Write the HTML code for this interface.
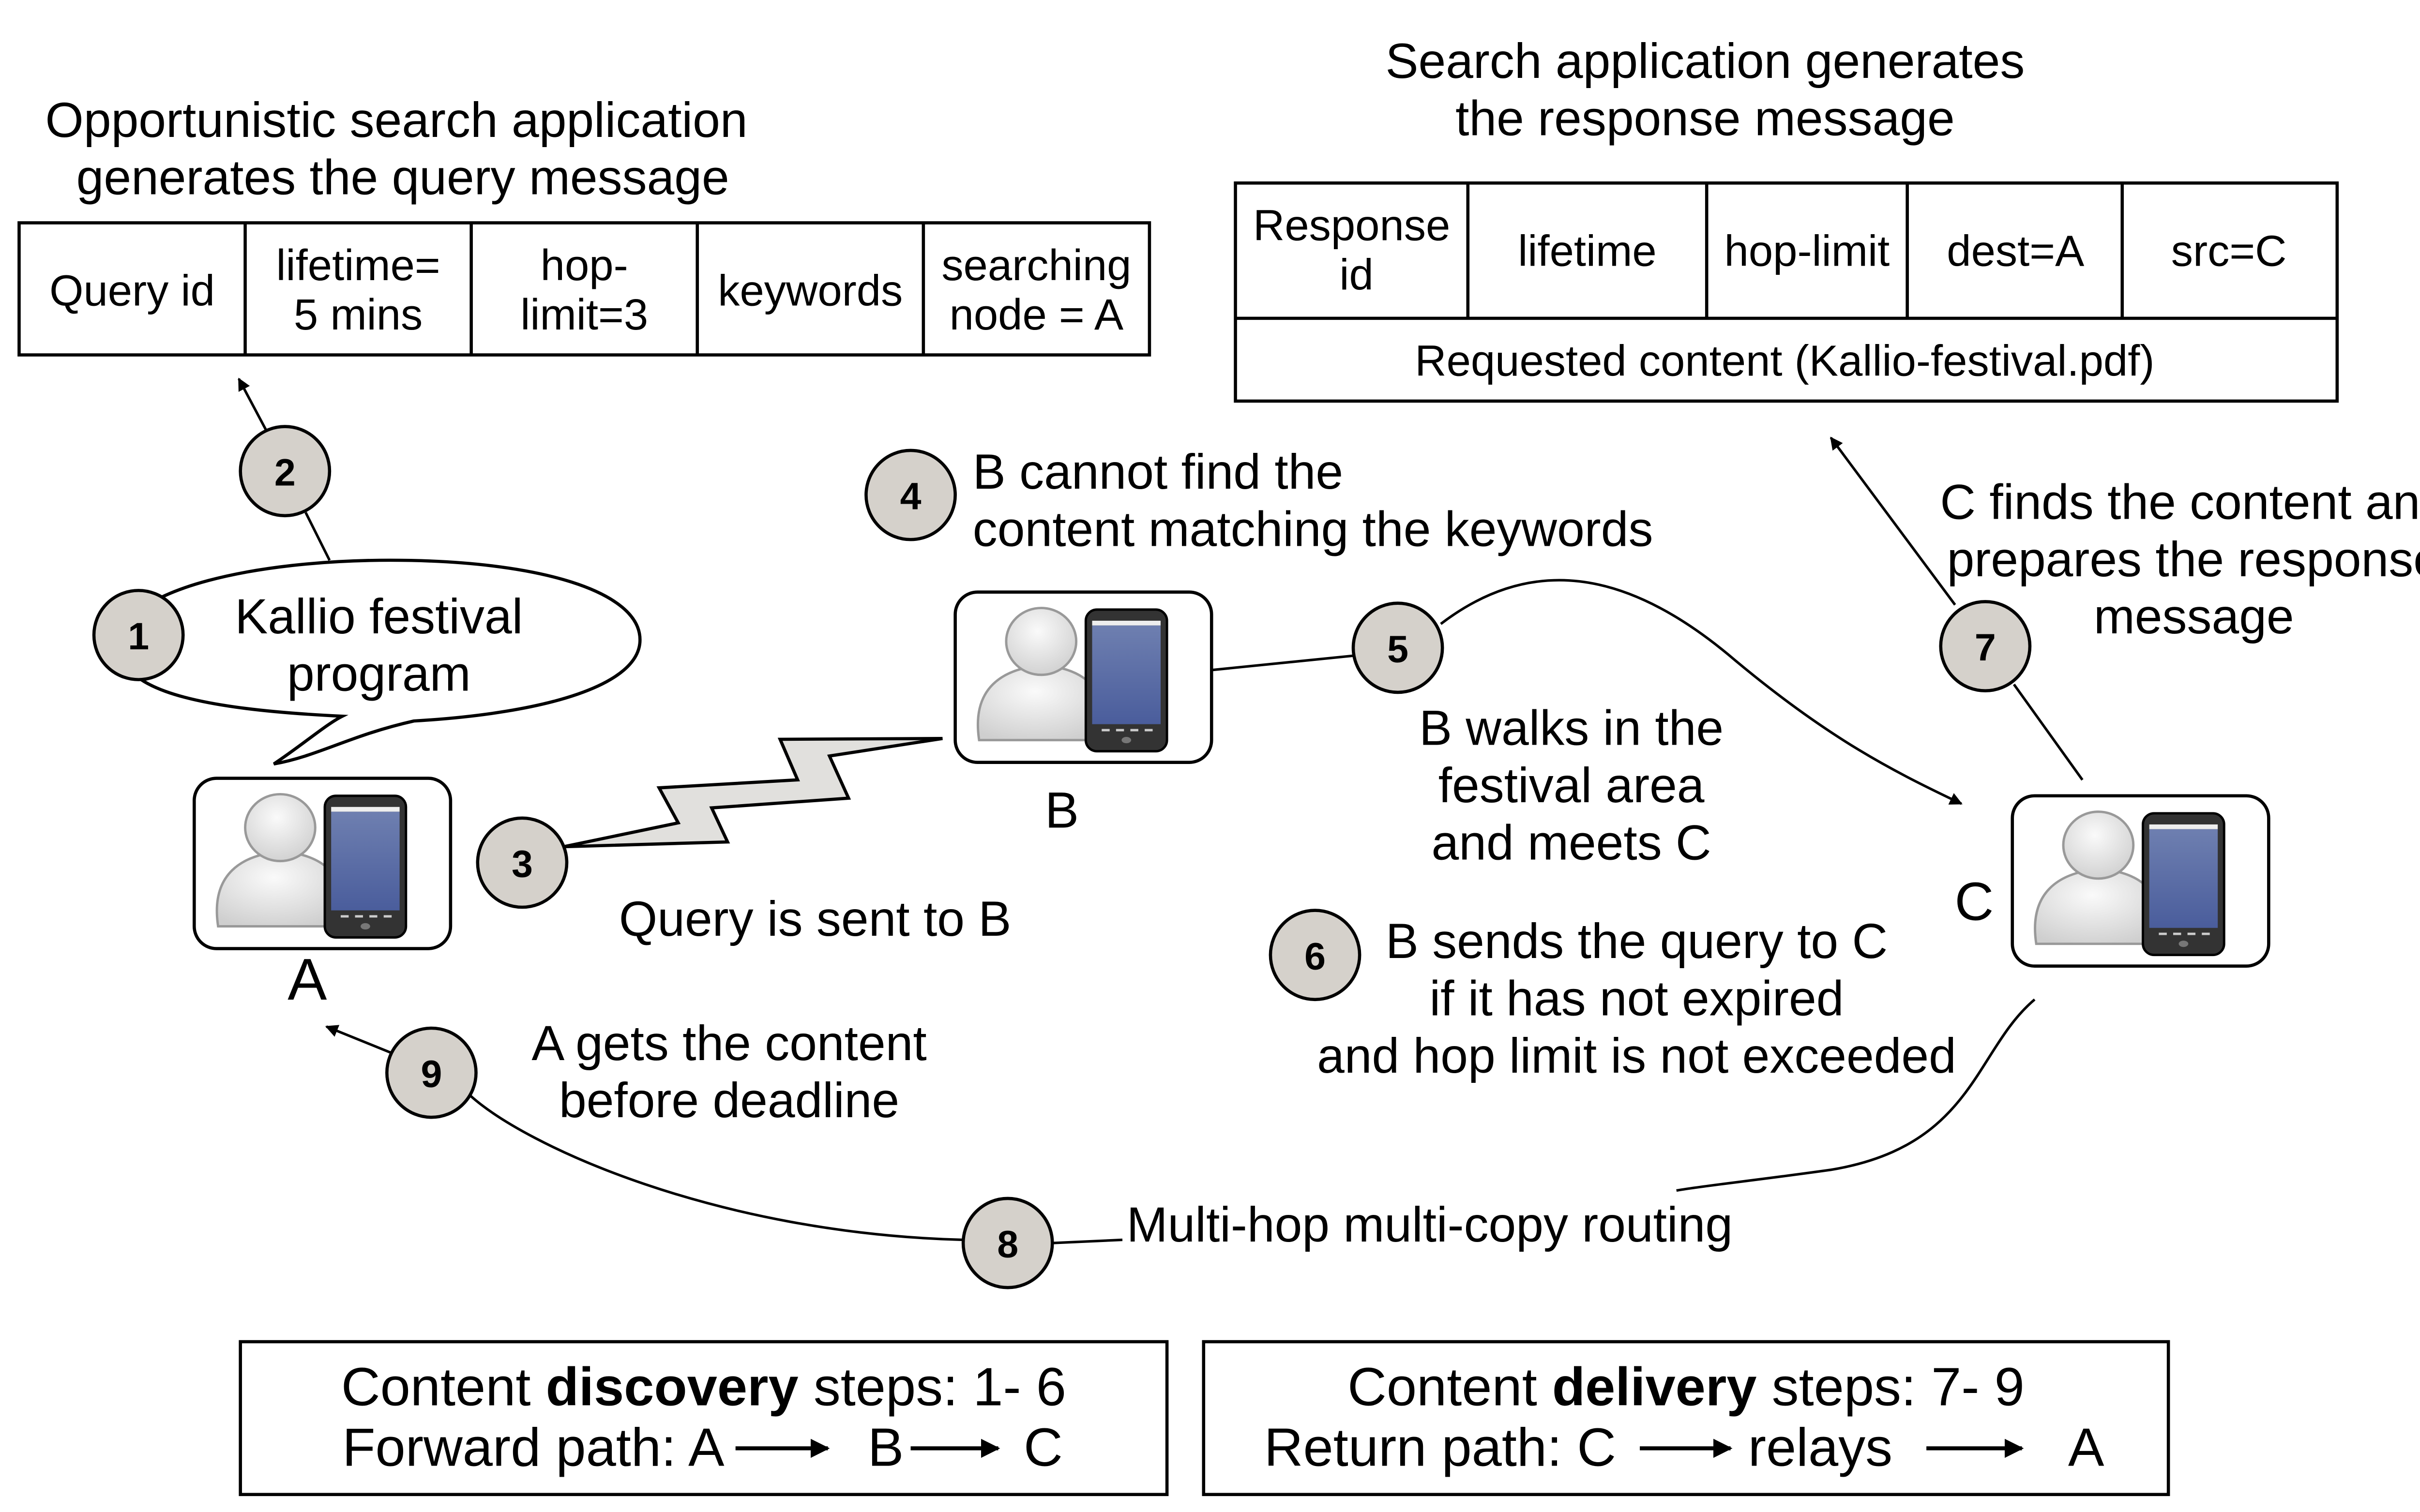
<!DOCTYPE html>
<html><head><meta charset="utf-8"><style>
html,body{margin:0;padding:0;background:#fff;}
svg{display:block;}
text{font-family:"Liberation Sans",Arial,sans-serif;fill:#000;}
</style></head><body>
<svg width="5138" height="3125" viewBox="0 0 1562 950" preserveAspectRatio="none" xmlns="http://www.w3.org/2000/svg">
<defs>
<marker id="ah" viewBox="0 0 10 10" refX="9" refY="5" markerWidth="8" markerHeight="8" orient="auto" markerUnits="userSpaceOnUse">
<path d="M0,0 L10,5 L0,10 z" fill="#000"/></marker>
<marker id="ah2" viewBox="0 0 10 10" refX="9" refY="5" markerWidth="12" markerHeight="12" orient="auto" markerUnits="userSpaceOnUse">
<path d="M0,0 L10,5 L0,10 z" fill="#000"/></marker>
<radialGradient id="pg" cx="0.45" cy="0.35" r="0.7"><stop offset="0" stop-color="#fafafa"/><stop offset="1" stop-color="#cfcfcf"/></radialGradient>
<linearGradient id="sc" x1="0" y1="0" x2="0" y2="1"><stop offset="0" stop-color="#6e7fb0"/><stop offset="1" stop-color="#4a5d9c"/></linearGradient>
<g id="dev">
 <rect x="0" y="0" width="161" height="107" rx="14" fill="#fff" stroke="#000" stroke-width="2"/>
 <path d="M15,93 C10,60 30,48 55,46 C80,48 98,60 93,93 Z" fill="url(#pg)" stroke="#999" stroke-width="1.5"/>
 <ellipse cx="54" cy="31" rx="22" ry="21" fill="url(#pg)" stroke="#999" stroke-width="1.5"/>
 <rect x="82" y="11" width="51" height="89" rx="7" fill="#333" stroke="#000" stroke-width="1.5"/>
 <rect x="86" y="18" width="43" height="3" fill="#eee"/>
 <rect x="86" y="21" width="43" height="62" fill="url(#sc)"/>
 <rect x="92" y="86" width="5" height="1.5" fill="#ccc"/><rect x="101" y="86" width="5" height="1.5" fill="#ccc"/><rect x="110" y="86" width="5" height="1.5" fill="#ccc"/><rect x="119" y="86" width="5" height="1.5" fill="#ccc"/>
 <ellipse cx="107.5" cy="93" rx="3" ry="2" fill="#777"/>
</g>
</defs>

<!-- Query title -->
<text x="249" y="86" font-size="31" text-anchor="middle">Opportunistic search application</text>
<text x="253" y="122" font-size="31" text-anchor="middle">generates the query message</text>
<rect x="12" y="140" width="710" height="83" fill="#fff" stroke="#000" stroke-width="2"/>
<g stroke="#000" stroke-width="2"><line x1="154" y1="140" x2="154" y2="223"/><line x1="296" y1="140" x2="296" y2="223"/><line x1="438" y1="140" x2="438" y2="223"/><line x1="580" y1="140" x2="580" y2="223"/></g>
<g font-size="27.5" text-anchor="middle">
<text x="83" y="192">Query id</text>
<text x="225" y="176">lifetime=</text><text x="225" y="207">5 mins</text>
<text x="367" y="176">hop-</text><text x="367" y="207">limit=3</text>
<text x="509" y="192">keywords</text>
<text x="651" y="176">searching</text><text x="651" y="207">node = A</text>
</g>

<!-- Response title -->
<text x="1071" y="49" font-size="31" text-anchor="middle">Search application generates</text>
<text x="1071" y="85" font-size="31" text-anchor="middle">the response message</text>
<rect x="776" y="115" width="692" height="137" fill="#fff" stroke="#000" stroke-width="2"/>
<g stroke="#000" stroke-width="2"><line x1="776" y1="200" x2="1468" y2="200"/><line x1="922" y1="115" x2="922" y2="200"/><line x1="1072" y1="115" x2="1072" y2="200"/><line x1="1198" y1="115" x2="1198" y2="200"/><line x1="1333" y1="115" x2="1333" y2="200"/></g>
<g font-size="27.5" text-anchor="middle">
<text x="849" y="151">Response</text><text x="852" y="182">id</text>
<text x="997" y="167">lifetime</text>
<text x="1135" y="167">hop-limit</text>
<text x="1266" y="167">dest=A</text>
<text x="1400" y="167">src=C</text>
<text x="1121" y="236">Requested content (Kallio-festival.pdf)</text>
</g>

<!-- arrows/lines -->
<g fill="none" stroke="#000" stroke-width="1.6">
<line x1="207" y1="352" x2="192" y2="322"/>
<line x1="167" y1="270" x2="150" y2="238" marker-end="url(#ah)"/>
<line x1="761" y1="421" x2="850" y2="412"/>
<path d="M905,392 C960,350 1020,355 1090,415 C1150,465 1190,485 1232,505" marker-end="url(#ah)"/>
<line x1="1308" y1="490" x2="1265" y2="430"/>
<line x1="1228" y1="380" x2="1150" y2="275" marker-end="url(#ah)"/>
<path d="M1278,628 C1240,660 1240,720 1150,735 C1100,742 1070,745 1053,748"/>
<line x1="661" y1="781" x2="705" y2="779"/>
<path d="M605,779 C450,775 330,720 295,688"/>
<line x1="247" y1="662" x2="205" y2="645" marker-end="url(#ah)"/>
</g>
<polygon points="354,532 426,517 414,495 501,490 490,464.5 592,464 521,475 533,501.5 447,507.6 457,529" fill="#e1e0dd" stroke="#000" stroke-width="2" stroke-linejoin="miter"/>

<!-- speech bubble -->
<path d="M172,480 C190,468 205,455 215,450 C110,445 70,430 76,400 C82,370 160,352 245,352 C340,352 402,372 402,402 C402,430 345,448 260,453 C220,462 200,475 172,480 Z" fill="#fff" stroke="#000" stroke-width="2"/>
<text x="238" y="398" font-size="31" text-anchor="middle">Kallio festival</text>
<text x="238" y="434" font-size="31" text-anchor="middle">program</text>

<!-- devices -->
<use href="#dev" x="122" y="489"/>
<use href="#dev" x="600" y="372"/>
<use href="#dev" x="1264" y="500"/>
<text x="193" y="628" font-size="37" text-anchor="middle">A</text>
<text x="667" y="520" font-size="32" text-anchor="middle">B</text>
<text x="1240" y="578" font-size="34" text-anchor="middle">C</text>

<!-- labels -->
<g font-size="31">
<text x="611" y="307">B cannot find the</text>
<text x="611" y="343">content matching the keywords</text>
<text x="987" y="468" text-anchor="middle">B walks in the</text>
<text x="987" y="504" text-anchor="middle">festival area</text>
<text x="987" y="540" text-anchor="middle">and meets C</text>
<text x="1378" y="326" text-anchor="middle">C finds the content and</text>
<text x="1378" y="362" text-anchor="middle">prepares the response</text>
<text x="1378" y="398" text-anchor="middle">message</text>
<text x="512" y="588" text-anchor="middle">Query is sent to B</text>
<text x="1028" y="602" text-anchor="middle">B sends the query to C</text>
<text x="1028" y="638" text-anchor="middle">if it has not expired</text>
<text x="1028" y="674" text-anchor="middle">and hop limit is not exceeded</text>
<text x="458" y="666" text-anchor="middle">A gets the content</text>
<text x="458" y="702" text-anchor="middle">before deadline</text>
<text x="898" y="780" text-anchor="middle">Multi-hop multi-copy routing</text>
</g>

<!-- numbered circles -->
<g fill="#d5d1cb" stroke="#000" stroke-width="2">
<circle cx="87" cy="399" r="28"/><circle cx="179" cy="296" r="28"/><circle cx="328" cy="542" r="28"/>
<circle cx="572" cy="311" r="28"/><circle cx="878" cy="407" r="28"/><circle cx="826" cy="600" r="28"/>
<circle cx="1247" cy="406" r="28"/><circle cx="633" cy="781" r="28"/><circle cx="271" cy="674" r="28"/>
</g>
<g font-size="24" font-weight="bold" text-anchor="middle">
<text x="87" y="408">1</text><text x="179" y="305">2</text><text x="328" y="551">3</text>
<text x="572" y="320">4</text><text x="878" y="416">5</text><text x="826" y="609">6</text>
<text x="1247" y="415">7</text><text x="633" y="790">8</text><text x="271" y="683">9</text>
</g>

<!-- bottom boxes -->
<rect x="151" y="843" width="582" height="96" fill="#fff" stroke="#000" stroke-width="2"/>
<rect x="756" y="843" width="606" height="96" fill="#fff" stroke="#000" stroke-width="2"/>
<g font-size="34">
<text x="442" y="883" text-anchor="middle">Content <tspan font-weight="bold">discovery</tspan> steps: 1- 6</text>
<text x="215" y="921">Forward path: A</text>
<text x="545" y="921">B</text>
<text x="643" y="921">C</text>
<text x="1059" y="883" text-anchor="middle">Content <tspan font-weight="bold">delivery</tspan> steps: 7- 9</text>
<text x="794" y="921">Return path: C</text>
<text x="1098" y="921">relays</text>
<text x="1299" y="921">A</text>
</g>
<g stroke="#000" stroke-width="2.5" fill="none">
<line x1="462" y1="910" x2="520" y2="910" marker-end="url(#ah2)"/>
<line x1="572" y1="910" x2="627" y2="910" marker-end="url(#ah2)"/>
<line x1="1030" y1="910" x2="1087" y2="910" marker-end="url(#ah2)"/>
<line x1="1210" y1="910" x2="1270" y2="910" marker-end="url(#ah2)"/>
</g>
</svg>
</body></html>
